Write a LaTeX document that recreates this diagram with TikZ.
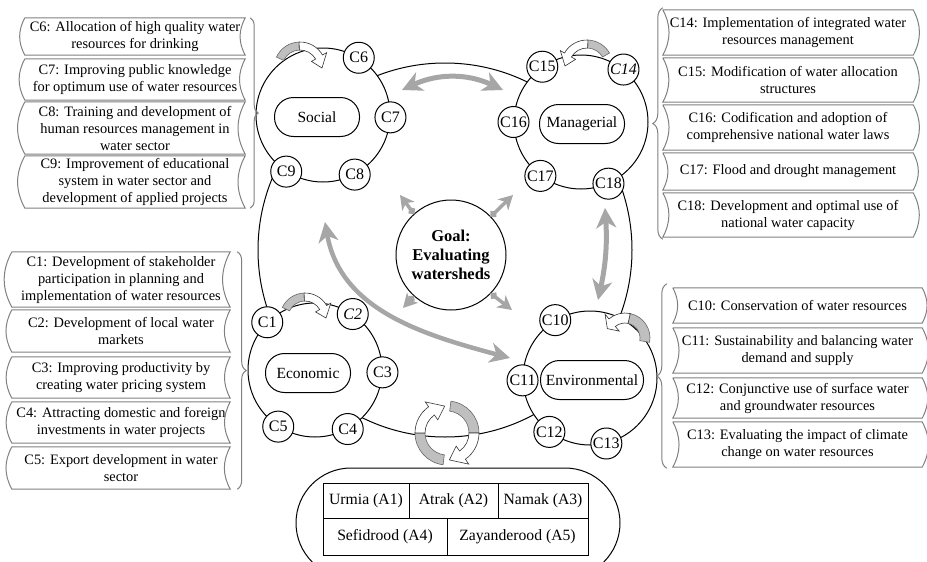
\documentclass[tikz,border=0pt]{standalone}
\usepackage{fontspec}
\setmainfont{Liberation Serif}
\usetikzlibrary{arrows.meta, positioning, decorations.pathreplacing}

\definecolor{arrowgray}{HTML}{A6A6A6}
\definecolor{cyclegray}{HTML}{BFBFBF}
\definecolor{boxgray}{HTML}{808080}

% scroll outlines round a description node
\newcommand{\scrollL}[1]{\draw[boxline] (#1.north west) -- (#1.north east) to[bend right=28] (#1.south east) -- (#1.south west) to[bend left=28] (#1.north west);}
\newcommand{\scrollR}[1]{\draw[boxline] (#1.north west) -- (#1.north east) to[bend left=28] (#1.south east) -- (#1.south west) to[bend right=28] (#1.north west);}

% curved arrow: centre, radius, half width, gray from, gray to, white to, tip angle
\newcommand{\cycarrow}[7]{%
  \begin{scope}[shift={#1}]
    \pgfmathsetmacro{\ro}{#2+#3}
    \pgfmathsetmacro{\ri}{#2-#3}
    \pgfmathsetmacro{\ho}{#2+2.2*#3}
    \pgfmathsetmacro{\hi}{#2-2.2*#3}
    \filldraw[fill=cyclegray, draw=black!60, line width=0.6pt] (#4:\ro pt) arc[start angle=#4, end angle=#5, radius=\ro pt] -- (#5:\ri pt) arc[start angle=#5, end angle=#4, radius=\ri pt] -- cycle;
    \filldraw[fill=white, draw=black!80, line width=0.6pt] (#5:\ro pt) arc[start angle=#5, end angle=#6, radius=\ro pt] -- (#6:\ho pt) -- (#7:#2pt) -- (#6:\hi pt) -- (#6:\ri pt) arc[start angle=#6, end angle=#5, radius=\ri pt] -- cycle;
  \end{scope}}

\begin{document}
\begin{tikzpicture}[
    x=1pt, y=-1pt,
    ring/.style={draw, circle, line width=1pt, minimum size=374pt},
    group/.style={draw, circle, fill=white, line width=1pt, minimum size=134pt},
    tag/.style={draw, fill=white, rounded corners=19pt, minimum width=85pt, minimum height=39pt, line width=1pt, font=\fontsize{15.5}{15.5}\selectfont},
    cnode/.style={draw, circle, fill=white, minimum size=31pt, inner sep=0pt, line width=1pt, font=\fontsize{16}{16}\selectfont},
    desc/.style={align=center, inner sep=0pt, font=\fontsize{14.4}{17}\selectfont},
    boxline/.style={draw=boxgray, line width=1pt},
    brace/.style={draw=boxgray, line width=1pt, decorate, decoration={brace, amplitude=#1}},
    bigarrow/.style={draw=arrowgray, line width=5pt, {Stealth[length=20pt, width=20pt, inset=6pt]}-{Stealth[length=20pt, width=20pt, inset=6pt]}},
    goalarrow/.style={draw=arrowgray, line width=3.5pt, {Circle[length=7pt]}-{Stealth[length=14pt, width=15pt, inset=4pt]}},
    cell/.style={draw, line width=1pt, outer sep=0pt, inner sep=0pt, font=\fontsize{15.7}{15.7}\selectfont}
]
    \useasboundingbox (0,0) rectangle (927,562);
    \clip (0,0) rectangle (927,562);

    \node[ring] (ring) at (445,250) {};

    % four groups
    \node[group] (soc) at (323,115) {};
    \node[group] (man) at (581,122) {};
    \node[group] (eco) at (315,370) {};
    \node[group] (env) at (590,378) {};

    \node[tag] (soctag) at (317,117) {Social};
    \node[tag] (mantag) at (582,124) {Managerial};
    \node[tag] (ecotag) at (308,373) {Economic};
    \node[tag, minimum width=103pt] (envtag) at (592,380) {Environmental};

    \node[cnode] (c6) at (soc.58) {C6};
    \node[cnode] (c7) at (soc.-2) {C7};
    \node[cnode] (c8) at (soc.-62) {C8};
    \node[cnode] (c9) at (soc.-123) {C9};

    \node[cnode] (c15) at (man.125) {C15};
    \node[cnode] (c14) at (man.51) {\itshape C14};
    \node[cnode] (c16) at (man.180) {C16};
    \node[cnode] (c17) at (man.-127) {C17};
    \node[cnode] (c18) at (man.-66) {C18};

    \node[cnode] (c1) at (eco.135) {C1};
    \node[cnode] (c2) at (eco.56) {\itshape C2};
    \node[cnode] (c3) at (eco.-2) {C3};
    \node[cnode] (c4) at (eco.-61) {C4};
    \node[cnode] (c5) at (eco.-123) {C5};

    \node[cnode] (c10) at (env.121) {C10};
    \node[cnode] (c11) at (env.182) {C11};
    \node[cnode] (c12) at (env.-127) {C12};
    \node[cnode] (c13) at (env.-76) {C13};

    % goal
    \node[draw, circle, fill=white, line width=1pt, minimum size=110pt, align=center, inner sep=0pt,
          font=\bfseries\fontsize{16.5}{19}\selectfont] (goal) at (451,255) {Goal:\\Evaluating\\watersheds};
    \coordinate (g1) at (400,195);
    \coordinate (g2) at (513,195);
    \coordinate (g3) at (403,308);
    \coordinate (g4) at (512,310);
    \draw[goalarrow] (goal.132) -- (g1);
    \draw[goalarrow] (goal.44) -- (g2);
    \draw[goalarrow] (goal.-132) -- (g3);
    \draw[goalarrow] (goal.-44) -- (g4);

    % links between groups
    \coordinate (sm1) at (402,90);
    \coordinate (sm2) at (503,90);
    \coordinate (me1) at (605,208);
    \coordinate (me2) at (598,300);
    \coordinate (se1) at (325,222);
    \coordinate (se2) at (510,358);
    \draw[bigarrow] (sm1) to[bend left=25] (sm2);
    \draw[bigarrow] (me1) to[bend left=8] (me2);
    \draw[bigarrow, line width=4.5pt] (se1) to[out=-80, in=165] (se2);

    % curved arrows
    \cycarrow{(300,68)}{22}{4}{155}{92}{30}{0}
    \cycarrow{(587,66)}{22}{4}{30}{88}{150}{180}
    \cycarrow{(305,318)}{21}{4}{155}{92}{30}{0}
    \cycarrow{(625,338)}{20}{5}{-10}{78}{130}{152}
    \cycarrow{(447,433)}{27}{5}{83}{0}{-55}{-85}
    \cycarrow{(447,433)}{27}{5}{-97}{-180}{-235}{-265}

    % watersheds
    \node[draw, rounded corners=55pt, minimum width=324pt, minimum height=110pt, line width=1pt] (basin) at (458,523) {};
    \node[cell, minimum width=86pt, minimum height=35pt] (a1) at (366,500.5) {Urmia (A1)};
    \node[cell, minimum width=89pt, minimum height=35pt, right=0pt of a1] (a2) {Atrak (A2)};
    \node[cell, minimum width=90pt, minimum height=35pt, right=0pt of a2] (a3) {Namak (A3)};
    \node[cell, minimum width=124pt, minimum height=37pt, below right=0pt and 0pt of a1.south west] (a4) {Sefidrood (A4)};
    \node[cell, minimum width=141pt, minimum height=37pt, right=0pt of a4] (a5) {Zayanderood (A5)};

    % social criteria
    \node[desc, minimum width=220pt, minimum height=37pt] (d6) at (135,36.5) {C6: Allocation of high quality water\\resources for drinking};
    \node[desc, minimum width=220pt, minimum height=41pt] (d7) at (135,79.5) {C7: Improving public knowledge\\for optimum use of water resources};
    \node[desc, minimum width=220pt, minimum height=52pt] (d8) at (135,128) {C8: Training and development of\\human resources management in\\water sector};
    \node[desc, minimum width=220pt, minimum height=52pt] (d9) at (135,182) {C9: Improvement of educational\\system in water sector and\\development of applied projects};
    \scrollL{d6} \scrollL{d7} \scrollL{d8} \scrollL{d9}
    \draw[brace=8pt] ([xshift=5pt]d6.north east) -- ([xshift=5pt]d9.south east);

    % economic criteria
    \node[desc, minimum width=218pt, minimum height=55pt] (d1) at (121,279.5) {C1: Development of stakeholder\\participation in planning and\\implementation of water resources};
    \node[desc, minimum width=218pt, minimum height=42pt] (d2) at (121,331) {C2: Development of local water\\markets};
    \node[desc, minimum width=218pt, minimum height=41pt] (d3) at (121,377.5) {C3: Improving productivity by\\creating water pricing system};
    \node[desc, minimum width=218pt, minimum height=41pt] (d4) at (121,422.5) {C4: Attracting domestic and foreign\\investments in water projects};
    \node[desc, minimum width=218pt, minimum height=42pt] (d5) at (121,468) {C5: Export development in water\\sector};
    \scrollL{d1} \scrollL{d2} \scrollL{d3} \scrollL{d4} \scrollL{d5}
    \draw[brace=9pt] ([xshift=7pt]d1.north east) -- ([xshift=7pt]d5.south east);

    % managerial criteria
    \node[desc, minimum width=250pt, minimum height=45pt] (d14) at (788,32.5) {C14: Implementation of integrated water\\resources management};
    \node[desc, minimum width=250pt, minimum height=44pt] (d15) at (788,80) {C15: Modification of water allocation\\structures};
    \node[desc, minimum width=250pt, minimum height=45pt] (d16) at (788,127.5) {C16: Codification and adoption of\\comprehensive national water laws};
    \node[desc, minimum width=250pt, minimum height=37pt] (d17) at (788,171.5) {C17: Flood and drought management};
    \node[desc, minimum width=250pt, minimum height=44pt] (d18) at (788,215) {C18: Development and optimal use of\\national water capacity};
    \scrollR{d14} \scrollR{d15} \scrollR{d16} \scrollR{d17} \scrollR{d18}
    \draw[brace=10pt] ([yshift=-2pt]d18.south west) -- ([yshift=2pt]d14.north west);

    % environmental criteria
    \node[desc, minimum width=249pt, minimum height=35pt] (d10) at (797.5,305.5) {C10: Conservation of water resources};
    \node[desc, minimum width=249pt, minimum height=45pt] (d11) at (797.5,350.5) {C11: Sustainability and balancing water\\demand and supply};
    \node[desc, minimum width=249pt, minimum height=40pt] (d12) at (797.5,398) {C12: Conjunctive use of surface water\\and groundwater resources};
    \node[desc, minimum width=249pt, minimum height=45pt] (d13) at (797.5,444.5) {C13: Evaluating the impact of climate\\change on water resources};
    \scrollR{d10} \scrollR{d11} \scrollR{d12} \scrollR{d13}
    \draw[brace=10pt] ([xshift=-6pt, yshift=-1pt]d13.south west) -- ([xshift=-6pt, yshift=4pt]d10.north west);
\end{tikzpicture}
\end{document}
